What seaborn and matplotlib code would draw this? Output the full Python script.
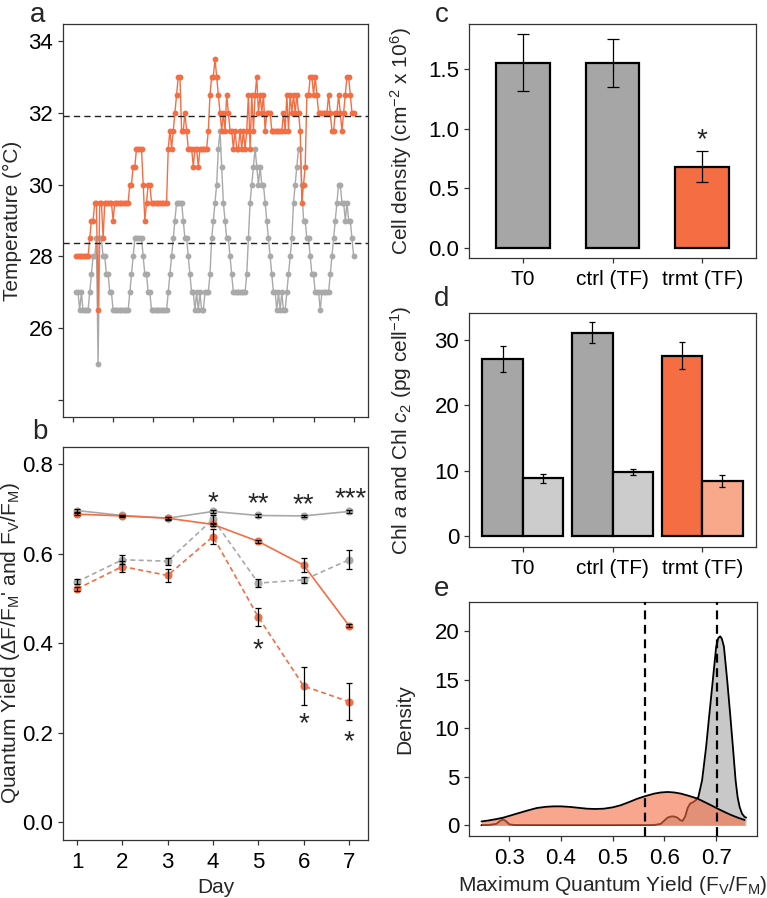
import numpy as np
import pandas as pd
import matplotlib
matplotlib.use("Agg")
import matplotlib.pyplot as plt
import seaborn as sns

# ---------------- data ----------------
# panel a: hourly temperature (°C), hours 2..168
hours = list(range(2, 169))
temp_ctrl = [
    27.0, 27.0, 26.5, 27.0, 26.5, 26.5, 26.5, 26.5,
    27.0, 27.5, 28.0, 28.0, 28.5, 25.0, 28.5, 28.5, 28.0, 28.0, 27.5, 27.5, 27.0, 27.0,
    26.5, 26.5, 26.5, 26.5, 26.5, 26.5, 26.5, 26.5, 26.5, 26.5,
    27.0, 27.5, 28.0, 28.5, 28.5, 28.5, 28.5, 28.5, 28.0, 27.5, 27.5, 27.0, 27.0,
    26.5, 26.5, 26.5, 26.5, 26.5, 26.5, 26.5, 26.5, 26.5, 26.5,
    27.0, 27.5, 28.0, 28.5, 29.0, 29.5, 29.5, 29.5, 29.5, 29.0, 28.5, 28.5, 28.0, 27.5, 27.0, 27.0,
    26.5, 27.0, 26.5, 27.0, 26.5, 26.5, 27.0, 27.0,
    27.0, 27.5, 28.5, 29.0, 29.5, 30.0, 31.0, 31.5, 30.5, 29.5, 29.0, 28.5, 28.5, 28.0, 27.5, 27.0, 27.0, 27.0,
    27.0, 27.0, 27.0, 27.0, 27.0, 27.5, 28.5, 29.5, 30.0, 30.5, 31.0, 30.5, 30.0, 30.5, 30.0, 30.0,
    29.5, 29.0, 28.5, 28.0, 27.5, 27.0, 27.0, 26.5, 27.0, 26.5, 27.0, 26.5, 26.5, 27.0, 27.5,
    28.0, 28.5, 29.5, 30.0, 30.5, 31.0, 31.0, 30.0, 29.0, 29.0, 28.5, 28.5, 28.0, 27.5, 27.5, 27.0, 27.0,
    27.0, 26.5, 27.0, 27.0, 27.0, 27.0, 27.0,
    27.5, 28.0, 28.5, 29.0, 29.5, 30.0, 30.0, 29.5, 29.5, 29.0, 29.5, 29.0, 29.0, 28.5, 28.0,
]
temp_trmt = [
    28.0, 28.0, 28.0, 28.0, 28.0, 28.0, 28.0, 28.0,
    28.5, 29.0, 29.0, 29.5, 29.5, 26.5, 29.5, 29.5, 28.5, 29.5, 29.5, 29.5, 29.5, 29.5, 29.0,
    29.5, 29.5, 29.5, 29.5, 29.5, 29.5, 29.5, 29.5, 29.5,
    30.0, 30.0, 30.5, 30.5, 31.0, 31.0, 31.0, 31.0, 30.0, 29.0, 29.5, 30.0, 30.0,
    29.5, 29.5, 29.5, 29.5, 29.5, 29.5, 29.5, 29.5, 29.5, 29.5,
    31.0, 31.5, 31.0, 31.5, 32.0, 32.5, 33.0, 33.0, 31.5, 31.5, 32.0, 31.5, 31.0, 31.0, 31.0,
    30.5, 31.0, 31.0, 30.5, 31.0, 31.0, 31.0, 31.0, 31.0, 31.5, 32.5, 33.0, 33.0, 33.5,
    33.0, 32.5, 32.0, 31.5, 32.0, 31.5, 32.5, 32.0, 31.5, 31.5,
    31.0, 31.5, 31.0, 31.0, 31.5, 31.0, 31.5, 31.0, 31.5, 32.5,
    31.0, 32.5, 31.5, 32.5, 33.0, 32.0, 32.5, 32.0, 32.5, 31.5,
    32.0, 32.0, 32.0, 31.5, 31.5, 31.5, 31.5, 31.5, 31.5, 31.5,
    32.0, 31.5, 32.5, 31.5, 32.5, 32.0, 32.5, 32.0, 32.5, 32.0,
    31.5, 29.5, 30.0, 30.5, 32.5, 32.5, 33.0, 33.0, 32.5, 33.0,
    32.5, 32.0, 32.0, 32.0, 32.0, 32.0, 32.0, 32.5, 32.0, 31.5,
    31.5, 32.0, 32.0, 32.5, 32.0, 31.5, 32.0, 32.5, 33.0, 33.0,
    32.5, 32.0, 32.0,
]
temp_ref_lines = [31.9, 28.36]
day_ticks_h = [0, 24, 48, 72, 96, 120, 144, 168]

# panel b: quantum yield
days = [1, 2, 3, 4, 5, 6, 7]
fv_ctrl = [0.696, 0.685, 0.679, 0.694, 0.685, 0.684, 0.694]
fv_ctrl_err = [0.003, 0.002, 0.002, 0.003, 0.003, 0.003, 0.003]
fv_trmt = [0.688, 0.684, 0.679, 0.665, 0.627, 0.574, 0.439]
fv_trmt_err = [0.003, 0.003, 0.003, 0.004, 0.004, 0.015, 0.004]
dfm_ctrl = [0.537, 0.586, 0.583, 0.677, 0.534, 0.541, 0.586]
dfm_ctrl_err = [0.005, 0.010, 0.008, 0.010, 0.009, 0.007, 0.021]
dfm_trmt = [0.521, 0.571, 0.551, 0.638, 0.458, 0.304, 0.269]
dfm_trmt_err = [0.005, 0.013, 0.014, 0.016, 0.021, 0.043, 0.042]
stars_top = ["*", "**", "**", "***"]
stars_top_day = [4, 5, 6, 7]
stars_top_y = [0.713, 0.711, 0.708, 0.722]
stars_bot_day = [5, 6, 7]
stars_bot_y = [0.383, 0.219, 0.178]

# panel c: cell density
groups = ["T0", "ctrl (TF)", "trmt (TF)"]
cell_density = [1.556, 1.553, 0.683]
cell_err = [0.237, 0.200, 0.129]
cell_star_y = 0.905

# panel d: chlorophyll
chl_a = [27.06, 31.10, 27.56]
chl_a_err = [2.05, 1.55, 2.05]
chl_c2 = [8.78, 9.70, 8.37]
chl_c2_err = [0.70, 0.46, 0.90]

# panel e: density curves
dens_ctrl_x = [0.246, 0.262, 0.275, 0.282, 0.288, 0.294, 0.300, 0.310, 0.400, 0.500, 0.580,
               0.593, 0.600, 0.606, 0.612, 0.618, 0.625, 0.630, 0.635, 0.640, 0.645, 0.650,
               0.656, 0.661, 0.6656, 0.6728, 0.6806, 0.687, 0.6935, 0.700, 0.704, 0.7078,
               0.711, 0.715, 0.7214, 0.727, 0.7324, 0.7376, 0.7415, 0.7454, 0.750, 0.7551, 0.758]
dens_ctrl_y = [0.02, 0.05, 0.15, 0.45, 0.62, 0.40, 0.10, 0.03, 0.02, 0.02, 0.03,
               0.15, 0.50, 0.79, 0.90, 0.92, 0.79, 0.55, 0.45, 0.90, 1.80, 2.25,
               2.40, 2.60, 2.92, 4.63, 8.06, 11.5, 14.9, 18.35, 19.25, 19.45,
               19.2, 18.4, 14.9, 11.5, 8.06, 4.63, 2.90, 1.89, 1.20, 0.86, 0.80]
dens_trmt_x = [0.2462, 0.260, 0.275, 0.2883, 0.305, 0.3207, 0.337, 0.3532, 0.370, 0.3856,
               0.400, 0.418, 0.434, 0.4504, 0.466, 0.4828, 0.500, 0.5152, 0.532, 0.5477,
               0.564, 0.5801, 0.593, 0.606, 0.619, 0.6319, 0.648, 0.6643, 0.6773, 0.6903,
               0.703, 0.7162, 0.729, 0.7418, 0.7551]
dens_trmt_y = [0.40, 0.50, 0.64, 0.79, 1.05, 1.30, 1.55, 1.78, 1.90, 1.95,
               1.95, 1.89, 1.80, 1.71, 1.68, 1.71, 1.85, 2.06, 2.40, 2.74,
               3.02, 3.26, 3.38, 3.43, 3.38, 3.26, 3.02, 2.74, 2.40, 2.06,
               1.71, 1.37, 1.06, 0.79, 0.55]
fv_means = [0.5626, 0.702]

# ---------------- style ----------------
GRAY = "#A9A9A9"
ORANGE = "#F46D43"
GRAY_BAR = "#A6A6A6"
LIGHT_GRAY = "#CCCCCC"
LIGHT_ORANGE = "#F8A88B"
EDGE = "#333333"

sns.set_theme(style="white")
plt.rcParams["font.family"] = ["Liberation Sans", "DejaVu Sans"]
plt.rcParams.update({
    "mathtext.fontset": "custom",
    "mathtext.rm": "Liberation Sans",
    "mathtext.it": "Liberation Sans:italic",
    "mathtext.bf": "Liberation Sans:bold",
    "axes.edgecolor": EDGE,
    "axes.linewidth": 0.9,
    "xtick.bottom": True,
    "ytick.left": True,
    "xtick.direction": "out",
    "ytick.direction": "out",
    "xtick.major.size": 3.5,
    "ytick.major.size": 3.5,
    "xtick.major.width": 0.9,
    "ytick.major.width": 0.9,
    "xtick.color": EDGE,
    "ytick.color": EDGE,
    "xtick.labelcolor": "black",
    "ytick.labelcolor": "black",
    "xtick.labelsize": 16,
    "ytick.labelsize": 16,
    "axes.labelsize": 15,
    "xtick.major.pad": 5.0,
    "ytick.major.pad": 3.5,
})

fig = plt.figure(figsize=(7.67, 8.98), dpi=100)
W, H = 767.0, 898.0


def box(l, t, r, b):
    return [l / W, 1 - b / H, (r - l) / W, (b - t) / H]


axA = fig.add_axes(box(63, 24, 368, 417))
axB = fig.add_axes(box(63, 447, 368, 840))
axC = fig.add_axes(box(469, 24, 756, 258))
axD = fig.add_axes(box(469, 313, 756, 547))
axE = fig.add_axes(box(469, 602, 757, 836))

# ---------------- panel a ----------------
n = len(hours)
dfA = pd.DataFrame({"hour": hours * 2, "temp": temp_ctrl + temp_trmt,
                    "grp": ["ctrl"] * n + ["trmt"] * n})
for g, col in [("ctrl", GRAY), ("trmt", ORANGE)]:
    sns.lineplot(data=dfA[dfA.grp == g], x="hour", y="temp", color=col, marker="o",
                 markersize=4.2, markeredgewidth=0, linewidth=1.0, estimator=None,
                 ax=axA, legend=False)
for yv in temp_ref_lines:
    axA.axhline(yv, color="#222222", lw=1.0, ls=(0, (4.5, 3)), zorder=5)
axA.set_xlim(-6, 176.6)
axA.set_ylim(23.53, 34.47)
axA.set_xticks(day_ticks_h)
axA.set_xticklabels([])
axA.set_yticks([24, 26, 28, 30, 32, 34])
axA.set_yticklabels(["", "26", "28", "30", "32", "34"])
axA.set_xlabel("")
axA.set_ylabel("Temperature (°C)")

# ---------------- panel b ----------------
series_b = [
    (fv_ctrl, fv_ctrl_err, GRAY, ""),
    (dfm_ctrl, dfm_ctrl_err, GRAY, (3, 2)),
    (fv_trmt, fv_trmt_err, ORANGE, ""),
    (dfm_trmt, dfm_trmt_err, ORANGE, (3, 2)),
]
for vals, errs, col, dash in series_b:
    dfb = pd.DataFrame({"day": days, "y": vals})
    sns.lineplot(data=dfb, x="day", y="y", color=col, linewidth=1.2, marker="o",
                 markersize=5.8, markeredgewidth=0, ax=axB, legend=False,
                 dashes=False, estimator=None, zorder=3)
    if dash:
        axB.lines[-1].set_dashes(dash)
    axB.errorbar(days, vals, yerr=errs, fmt="none", ecolor="black", elinewidth=0.9,
                 capsize=2.2, capthick=0.9, zorder=4)
STAR_FS = 20
for d, s, yv in zip(stars_top_day, stars_top, stars_top_y):
    xoff = 0.04 if s == "***" else 0.0
    axB.text(d + xoff, yv, s, ha="center", va="center", fontsize=STAR_FS)
for d, yv in zip(stars_bot_day, stars_bot_y):
    axB.text(d, yv, "*", ha="center", va="center", fontsize=STAR_FS)
axB.set_xlim(0.69, 7.42)
axB.set_ylim(-0.04, 0.838)
axB.set_xticks(days)
axB.set_yticks([0.0, 0.2, 0.4, 0.6, 0.8])
axB.set_yticklabels(["0.0", "0.2", "0.4", "0.6", "0.8"])
axB.set_xlabel("Day")
axB.set_ylabel("Quantum Yield (ΔF/F$_\\mathrm{M}$' and F$_\\mathrm{V}$/F$_\\mathrm{M}$)")

# ---------------- panel c ----------------
dfC = pd.DataFrame({"grp": groups, "val": cell_density})
sns.barplot(data=dfC, x="grp", y="val", hue="grp", palette=[GRAY_BAR, GRAY_BAR, ORANGE],
            saturation=1, width=0.6, edgecolor="black", linewidth=1.6, legend=False,
            ax=axC, errorbar=None)
axC.errorbar([0, 1, 2], cell_density, yerr=cell_err, fmt="none", ecolor="black",
             elinewidth=0.9, capsize=4.5, capthick=0.9)
axC.text(2, cell_star_y, "*", ha="center", va="center", fontsize=STAR_FS)
axC.set_xlim(-0.6, 2.6)
axC.set_ylim(-0.084, 1.88)
axC.set_yticks([0.0, 0.5, 1.0, 1.5])
axC.set_yticklabels(["0.0", "0.5", "1.0", "1.5"])
axC.set_xlabel("")
axC.set_ylabel("Cell density (cm$^{-2}$ x 10$^{6}$)")
axC.tick_params(axis="x", labelsize=15)

# ---------------- panel d ----------------
dfD = pd.DataFrame({"grp": groups * 2, "val": chl_a + chl_c2,
                    "pig": ["a"] * 3 + ["c2"] * 3})
sns.barplot(data=dfD, x="grp", y="val", hue="pig", width=0.9, gap=0, dodge=True,
            saturation=1, edgecolor="black", linewidth=1.6, legend=False, ax=axD,
            errorbar=None)
cols_a = [GRAY_BAR, GRAY_BAR, ORANGE]
cols_c = [LIGHT_GRAY, LIGHT_GRAY, LIGHT_ORANGE]
for bar, c in zip(axD.containers[0], cols_a):
    bar.set_facecolor(c)
for bar, c in zip(axD.containers[1], cols_c):
    bar.set_facecolor(c)
xa = [b.get_x() + b.get_width() / 2 for b in axD.containers[0]]
xc = [b.get_x() + b.get_width() / 2 for b in axD.containers[1]]
axD.errorbar(xa, chl_a, yerr=chl_a_err, fmt="none", ecolor="black", elinewidth=0.9,
             capsize=2.2, capthick=0.9)
axD.errorbar(xc, chl_c2, yerr=chl_c2_err, fmt="none", ecolor="black", elinewidth=0.9,
             capsize=2.2, capthick=0.9)
axD.set_xlim(-0.6, 2.6)
axD.set_ylim(-1.7, 34.1)
axD.set_yticks([0, 10, 20, 30])
axD.set_xlabel("")
axD.set_ylabel("Chl $a$ and Chl $c_\\mathrm{2}$ (pg cell$^{-1}$)")
axD.tick_params(axis="x", labelsize=15)

# ---------------- panel e ----------------
axE.fill_between(dens_ctrl_x, 0, dens_ctrl_y, color="#C8C8C8", lw=0, zorder=1)
sns.lineplot(x=dens_ctrl_x, y=dens_ctrl_y, color="black", linewidth=1.3, ax=axE,
             estimator=None, zorder=2)
axE.fill_between(dens_trmt_x, 0, dens_trmt_y, color=ORANGE, alpha=0.6, lw=0, zorder=3)
sns.lineplot(x=dens_trmt_x, y=dens_trmt_y, color="black", linewidth=1.3, ax=axE,
             estimator=None, zorder=4)
for xv in fv_means:
    axE.axvline(xv, color="black", lw=1.6, ls=(0, (4, 2.5)), zorder=5)
axE.set_xlim(0.222, 0.779)
axE.set_ylim(-1.1, 22.98)
axE.set_xticks([0.3, 0.4, 0.5, 0.6, 0.7])
axE.set_xticklabels(["0.3", "0.4", "0.5", "0.6", "0.7"])
axE.set_yticks([0, 5, 10, 15, 20])
axE.set_xlabel("Maximum Quantum Yield (F$_\\mathrm{V}$/F$_\\mathrm{M}$)")
axE.set_ylabel("Density")

# label positions (x = right edge of the rotated label, axes fraction)
axA.yaxis.set_label_coords(-0.136, 0.5)
axB.yaxis.set_label_coords(-0.136, 0.5)
for ax in (axC, axD, axE):
    ax.yaxis.set_label_coords(-0.19, 0.5)

for ax in (axA, axB, axC, axD, axE):
    for sp in ax.spines.values():
        sp.set_visible(True)
        sp.set_color(EDGE)
        sp.set_linewidth(0.9)

# panel letters (baseline positions)
for lbl, (x, y) in {"a": (38, 22), "b": (40, 439), "c": (442, 22),
                    "d": (442, 306), "e": (442, 596)}.items():
    fig.text(x / W, 1 - y / H, lbl, fontsize=20, ha="center", va="baseline")

fig.savefig("out.png", dpi=100)
